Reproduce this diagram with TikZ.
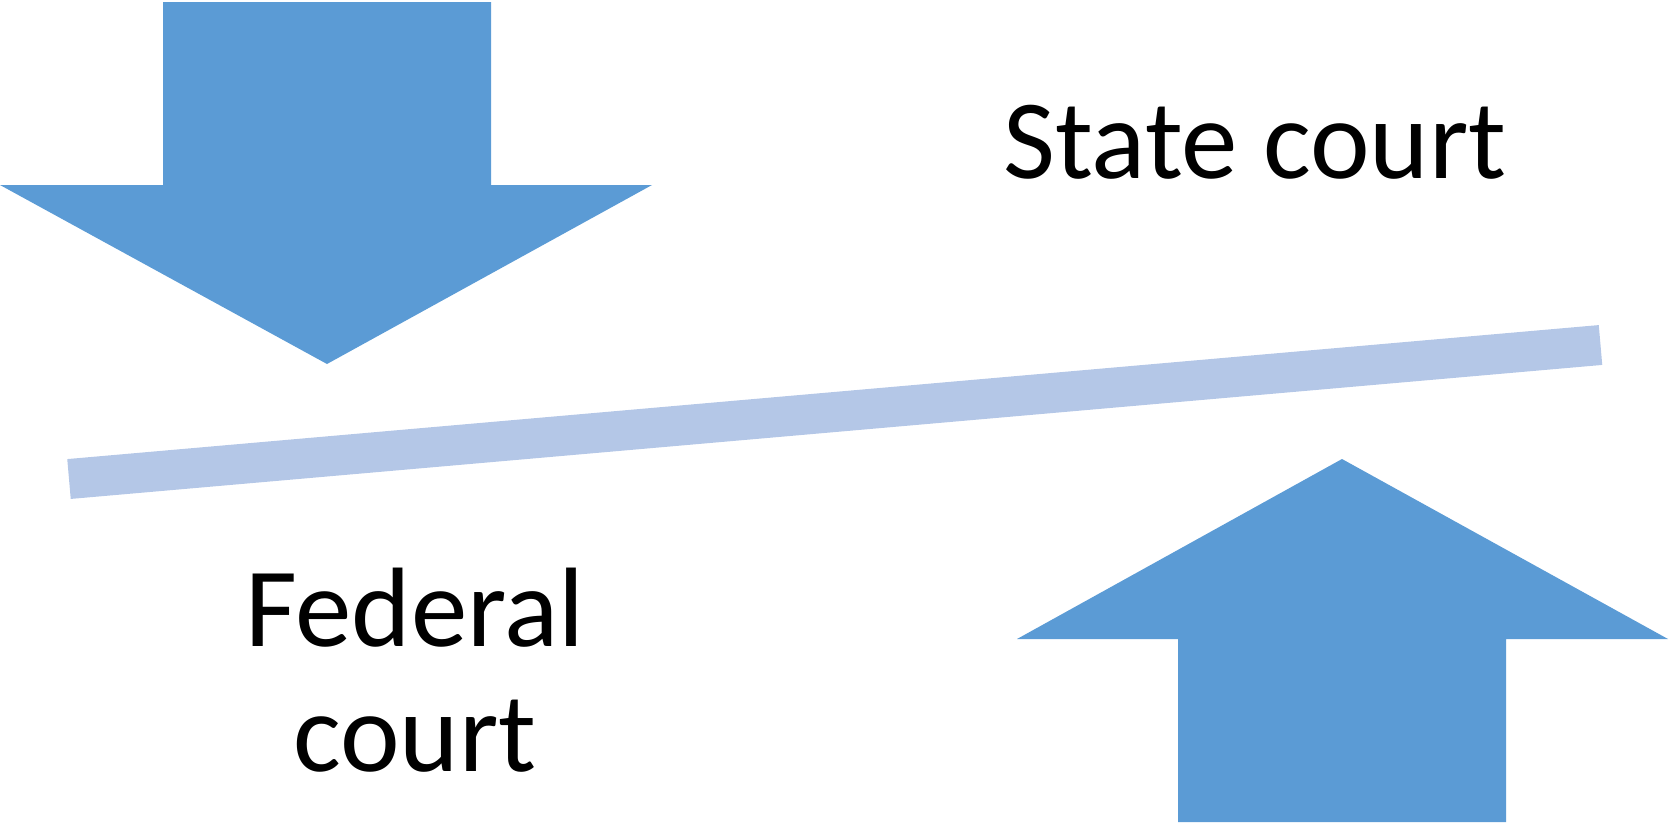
\documentclass[tikz,border=0pt]{standalone}
\usepackage{fontspec}
\setmainfont{Carlito}
\definecolor{arrowblue}{HTML}{5B9BD5}
\definecolor{barblue}{HTML}{B4C7E7}
\tikzset{
  bigarrow/.style={fill=arrowblue, draw=none},
  label/.style={inner sep=0pt, anchor=base, font=\fontsize{113}{124}\selectfont, text=black},
}
\begin{document}
\begin{tikzpicture}[x=1pt,y=-1pt]
\useasboundingbox (0,0) rectangle (1669,825);
% top arrow pointing down
\fill[bigarrow] (163,2) -- (491,2) -- (491,185) -- (652,185) -- (327,364) -- (0,185) -- (163,185) -- cycle;
% bottom arrow pointing up
\fill[bigarrow] (1178,822) -- (1506,822) -- (1506,639) -- (1668,639) -- (1342,459) -- (1017,639) -- (1178,639) -- cycle;
% bar
\coordinate (barL) at (69,479);
\coordinate (barR) at (1600.5,345);
\draw[barblue, line width=40pt] (barL) -- (barR);
% labels
\node[label] (state) at (1255,178) {State court};
\node[label] (fed1) at (415,646) {Federal};
\node[label] (fed2) at (415,771) {court};
\end{tikzpicture}
\end{document}
